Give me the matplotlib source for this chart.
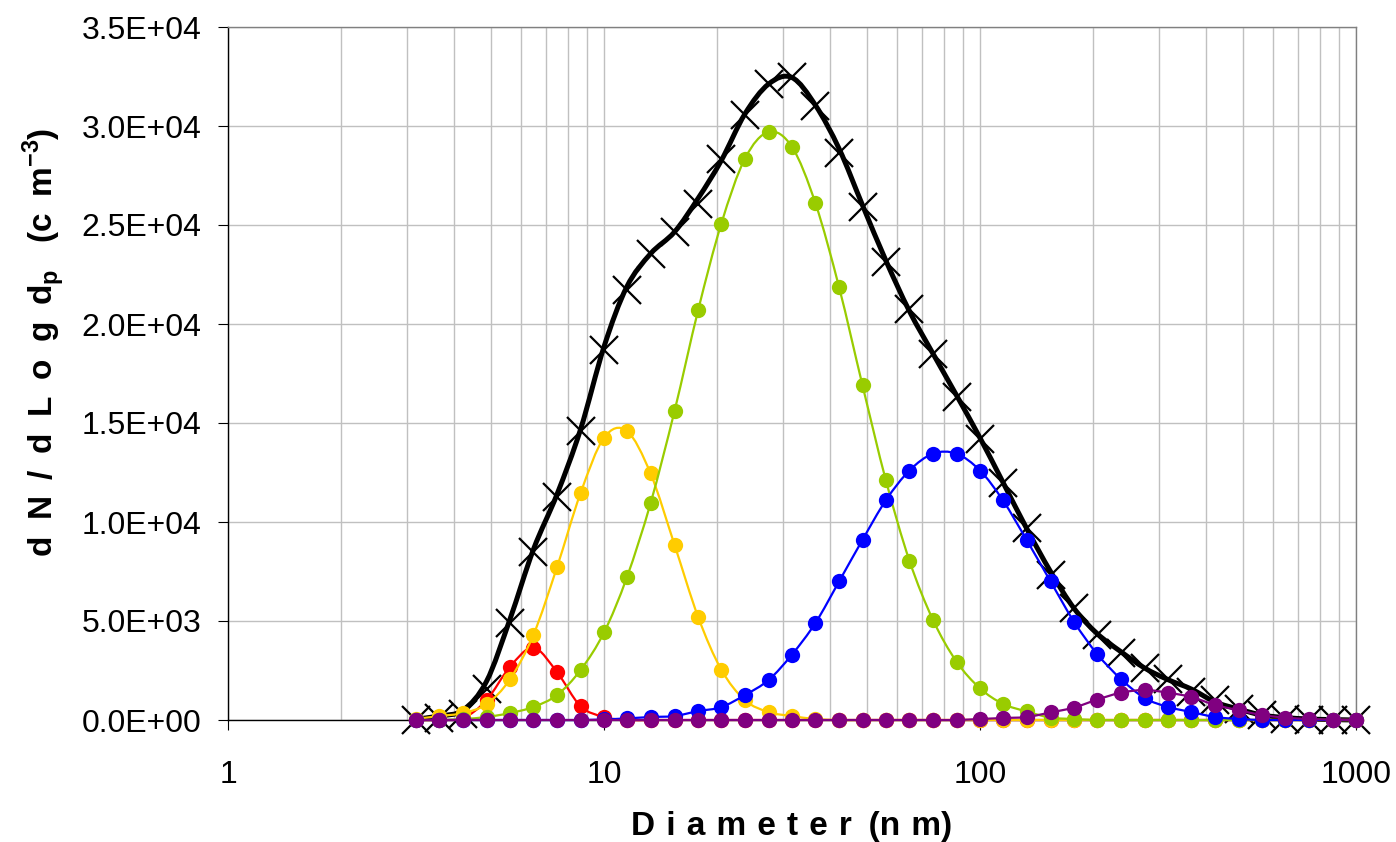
import numpy as np
import matplotlib
matplotlib.use("Agg")
import matplotlib.pyplot as plt
from matplotlib.path import Path
from matplotlib.patches import PathPatch
from matplotlib.ticker import FuncFormatter, FixedLocator, LogLocator, NullFormatter

plt.rcParams['font.family'] = ['Liberation Sans', 'DejaVu Sans']
plt.rcParams['mathtext.fontset'] = 'custom'
plt.rcParams['mathtext.rm'] = 'Liberation Sans:bold'
plt.rcParams['mathtext.bf'] = 'Liberation Sans:bold'

# diameters (nm), 16 channels per decade
diam = [3.16, 3.65, 4.22, 4.87, 5.62, 6.49, 7.50, 8.66, 10.0, 11.5,
        13.3, 15.4, 17.8, 20.5, 23.7, 27.4, 31.6, 36.5, 42.2, 48.7,
        56.2, 64.9, 75.0, 86.6, 100, 115, 133, 154, 178, 205,
        237, 274, 316, 365, 422, 487, 562, 649, 750, 866, 1000]

# measured total distribution (black crosses)
measured = [0, 100, 300, 1570, 4900, 8490, 11260, 14600, 18700, 21700,
            23550, 24640, 26040, 28330, 30550, 32100, 32450, 31000, 28630, 25900,
            23130, 20750, 18480, 16310, 14190, 11970, 9700, 7300, 5650, 4290,
            3380, 2630, 2070, 1410, 1010, 550, 250, 50, 0, 0, 0]

# fitted modes
mode_red = [0, 0, 100, 1000, 2680, 3650, 2420, 700, 150, 0,
            0, 0, 0, 0, 0, 0, 0, 0, 0, 0,
            0, 0, 0, 0, 0, 0, 0, 0, 0, 0,
            0, 0, 0, 0, 0, 0, 0, 0, 0, 0, 0]
mode_yellow = [50, 200, 350, 800, 2050, 4300, 7720, 11450, 14250, 14600,
               12450, 8850, 5200, 2550, 1000, 400, 200, 50, 0, 0,
               0, 0, 0, 0, 0, 0, 0, 0, 0, 0,
               0, 0, 0, 0, 0, 0, 0, 0, 0, 0, 0]
mode_green = [0, 0, 50, 150, 350, 660, 1260, 2520, 4420, 7200,
              10950, 15600, 20700, 25050, 28350, 29700, 28950, 26100, 21850, 16900,
              12100, 8050, 5050, 2950, 1600, 820, 430, 120, 50, 0,
              0, 0, 0, 0, 0, 0, 0, 0, 0, 0, 0]
mode_blue = [0, 0, 0, 0, 0, 0, 0, 0, 30, 80,
             150, 200, 450, 650, 1260, 2020, 3300, 4900, 7000, 9100,
             11100, 12600, 13450, 13450, 12600, 11100, 9100, 7000, 4950, 3330,
             2070, 1110, 660, 400, 150, 50, 0, 0, 0, 0, 0]
mode_purple = [0, 0, 0, 0, 0, 0, 0, 0, 0, 0,
               0, 0, 0, 0, 0, 0, 0, 0, 0, 0,
               0, 0, 0, 0, 50, 100, 150, 380, 630, 1030,
               1380, 1515, 1380, 1160, 760, 500, 250, 120, 50, 20, 0]

modes = [(mode_red, '#FF0000'), (mode_yellow, '#FFCC00'), (mode_green, '#99CC00'),
         (mode_blue, '#0000FF'), (mode_purple, '#800080')]


def smooth_path(x, y):
    # excel-like smoothed line: bezier through the points in log-x space
    lx = np.log10(np.asarray(x, float))
    y = np.asarray(y, float)
    n = len(lx)
    verts = [(lx[0], y[0])]
    codes = [Path.MOVETO]
    for i in range(n - 1):
        a = max(i - 1, 0)
        b = min(i + 2, n - 1)
        c1 = (lx[i] + (lx[i + 1] - lx[a]) / 6, y[i] + (y[i + 1] - y[a]) / 6)
        c2 = (lx[i + 1] - (lx[b] - lx[i]) / 6, y[i + 1] - (y[b] - y[i]) / 6)
        verts += [c1, c2, (lx[i + 1], y[i + 1])]
        codes += [Path.CURVE4] * 3
    verts = np.array(verts)
    verts[:, 0] = 10 ** verts[:, 0]
    return Path(verts, codes)


fig = plt.figure(figsize=(13.96, 8.42), dpi=100)
ax = fig.add_axes([228 / 1396, 1 - 720 / 842, (1356 - 228) / 1396, (720 - 27) / 842])
ax.set_xscale('log')
ax.set_xlim(1, 1000)
ax.set_ylim(0, 35000)

# measured crosses
ax.plot(diam, measured, 'x', color='black', markersize=20, markeredgewidth=1.6,
        clip_on=False, zorder=3)

# sum of modes
fit = np.sum([m for m, c in modes], axis=0)
ax.add_patch(PathPatch(smooth_path(diam, fit), fill=False, edgecolor='black',
                       lw=3.6, zorder=4, clip_on=False, joinstyle='round'))

for k, (vals, col) in enumerate(modes):
    z = 5 + k
    ax.add_patch(PathPatch(smooth_path(diam, vals), fill=False, edgecolor=col,
                           lw=1.6, zorder=z, clip_on=False))
    ax.plot(diam, vals, 'o', color=col, markersize=11, markeredgewidth=0,
            clip_on=False, zorder=z + 0.1)

ax.set_yticks(np.arange(0, 35001, 5000))
ax.yaxis.set_major_formatter(FuncFormatter(lambda v, p: '%.1E' % v))
ax.xaxis.set_major_locator(FixedLocator([1, 10, 100, 1000]))
ax.xaxis.set_major_formatter(FuncFormatter(lambda v, p: '%d' % v))
ax.xaxis.set_minor_locator(LogLocator(base=10, subs=np.arange(2, 10)))
ax.xaxis.set_minor_formatter(NullFormatter())

ax.grid(True, which='major', color='#C0C0C0', lw=1)
ax.grid(True, which='minor', axis='x', color='#C0C0C0', lw=1)
ax.set_axisbelow(True)

ax.tick_params(axis='y', which='major', direction='out', length=7, width=0.8,
               labelsize=23, pad=12)
ax.tick_params(axis='x', which='major', direction='out', length=7, width=0.8,
               labelsize=23, pad=22)
ax.tick_params(axis='x', which='minor', length=0)

for s in ['left', 'bottom']:
    ax.spines[s].set_color('black')
    ax.spines[s].set_linewidth(1)
for s in ['top', 'right']:
    ax.spines[s].set_color('#808080')
    ax.spines[s].set_linewidth(1)

sp = '\u2004'
fig.text(792 / 1396, 1 - 826 / 842, sp.join('Diameter') + '\u2002(n' + sp + 'm)',
         ha='center', va='center', fontsize=24, fontweight='bold')
en = '\u2002'
ylab = en.join('dN/dLogd') + r'$_{\mathbf{p}}$' + en + ' (c' + en + 'm' + r'$^{\mathbf{-3}}$' + ')'
fig.text(43 / 1396, 1 - 342 / 842, ylab, ha='center', va='center', rotation=90,
         fontsize=24, fontweight='bold')

fig.savefig('out.png', dpi=100)
